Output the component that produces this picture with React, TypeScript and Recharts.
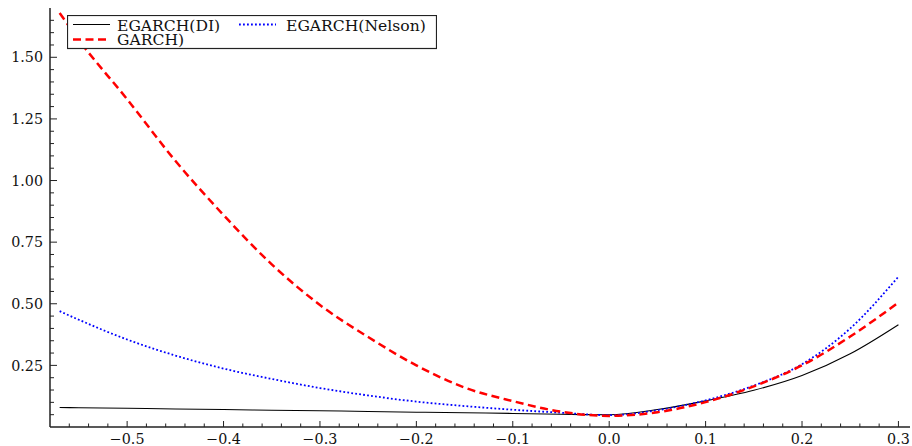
import React from "react";
import { LineChart, Line, XAxis, YAxis, Legend } from "recharts";

// shock values on the x axis
const shocks = [
  -0.57, -0.55, -0.5, -0.45, -0.4, -0.35, -0.3, -0.25, -0.2, -0.15, -0.1, -0.05, 0, 0.05, 0.1,
  0.15, 0.2, 0.25, 0.3,
];

// news impact curves
const egarchDI = [
  0.079, 0.078, 0.076, 0.073, 0.071, 0.068, 0.066, 0.063, 0.06, 0.058, 0.055, 0.052, 0.05, 0.071,
  0.106, 0.149, 0.209, 0.297, 0.415,
];
const egarchNelson = [
  0.47, 0.435, 0.355, 0.29, 0.237, 0.195, 0.158, 0.128, 0.103, 0.085, 0.07, 0.058, 0.048, 0.068,
  0.108, 0.168, 0.255, 0.4, 0.61,
];
const garch = [
  1.68, 1.57, 1.33, 1.08, 0.86, 0.66, 0.495, 0.365, 0.25, 0.16, 0.105, 0.062, 0.045, 0.06, 0.101,
  0.165, 0.25, 0.367, 0.505,
];

const series = [
  { key: "di", name: "EGARCH(DI)", color: "#000000", width: 1.1, dash: undefined as string | undefined },
  { key: "nelson", name: "EGARCH(Nelson)", color: "#0000ff", width: 1.8, dash: "1.8 2.2" },
  { key: "garch", name: "GARCH)", color: "#ff0000", width: 2.5, dash: "8 4.5" },
];

// tick positions: majors are labelled, the rest are minor marks
const xTicks: number[] = [];
for (let i = -28; i <= 15; i++) xTicks.push(+(i * 0.02).toFixed(2));
const yTicks: number[] = [];
for (let i = 1; i <= 33; i++) yTicks.push(+(i * 0.05).toFixed(2));

const data = shocks.map((x, i) => ({
  x,
  di: egarchDI[i],
  nelson: egarchNelson[i],
  garch: garch[i],
}));

// Liberation Serif isn't picked up here, DejaVu Serif is
const FONT = '"DejaVu Serif", serif';

const isMajor = (v: number, step: number) => Math.abs(v / step - Math.round(v / step)) < 1e-6;

const fmt = (v: number, digits: number) => {
  const s = Math.abs(v).toFixed(digits);
  return v < -1e-9 ? "\u2212" + s : s;
};

const YTick = (props: any) => {
  const { x, y, payload } = props;
  const major = isMajor(payload.value, 0.25);
  return (
    <g>
      <line x1={x} x2={x + (major ? 7 : 4)} y1={y} y2={y} stroke="#222" strokeWidth={1} />
      {major && (
        <text x={x - 7} y={y + 5.2} textAnchor="end" fontFamily={FONT} fontSize={14.3} fill="#111">
          {fmt(payload.value, 2)}
        </text>
      )}
    </g>
  );
};

const XTick = (props: any) => {
  const { x, y, payload } = props;
  const major = isMajor(payload.value, 0.1);
  return (
    <g>
      <line x1={x} x2={x} y1={y} y2={y - (major ? 6 : 3.5)} stroke="#222" strokeWidth={1} />
      {major && (
        <text x={x} y={y + 17} textAnchor="middle" fontFamily={FONT} fontSize={14.3} fill="#111">
          {fmt(payload.value, 1)}
        </text>
      )}
    </g>
  );
};

const LegendBox = () => (
  <svg width={370} height={35} style={{ display: "block" }}>
    <rect x={0.5} y={0.5} width={369} height={33} fill="#fff" stroke="#222" strokeWidth={1.2} />
    {series.map((s, i) => {
      const col = i === 1 ? 1 : 0;
      const row = i === 2 ? 1 : 0;
      const lx = col ? 172 : 6;
      const ly = row ? 24.5 : 9.5;
      return (
        <g key={s.key}>
          <line x1={lx} x2={lx + 37} y1={ly} y2={ly} stroke={s.color} strokeWidth={s.width} strokeDasharray={s.dash} />
          <text x={col ? 219 : 50} y={row ? 30 : 15.5} fontFamily={FONT} fontSize={15.6} fill="#111">
            {s.name}
          </text>
        </g>
      );
    })}
  </svg>
);

export default function App() {
  return (
    <div style={{ position: "absolute", left: 0, top: 0, background: "#fff" }}>
      <LineChart width={912} height={446} data={data} margin={{ top: 8, right: 2, bottom: 0, left: 0 }}>
        <XAxis
          dataKey="x"
          type="number"
          domain={[-0.58, 0.312]}
          ticks={xTicks}
          interval={0}
          height={19}
          tickSize={0}
          tickMargin={0}
          tickLine={false}
          tick={<XTick />}
          axisLine={{ stroke: "#222", strokeWidth: 1.5 }}
          allowDataOverflow
        />
        <YAxis
          type="number"
          domain={[0, 1.7]}
          ticks={yTicks}
          interval={0}
          width={50}
          tickSize={0}
          tickMargin={0}
          tickLine={false}
          tick={<YTick />}
          axisLine={{ stroke: "#222", strokeWidth: 1.5 }}
          allowDataOverflow
        />
        <Legend
          layout="horizontal"
          verticalAlign="middle"
          align="center"
          content={<LegendBox />}
          wrapperStyle={{ left: 67, top: 15, width: 370, height: 35 }}
        />
        {series.map((s) => (
          <Line
            key={s.key}
            dataKey={s.key}
            name={s.name}
            type="monotone"
            stroke={s.color}
            strokeWidth={s.width}
            strokeDasharray={s.dash}
            dot={false}
            activeDot={false}
            isAnimationActive={false}
          />
        ))}
      </LineChart>
    </div>
  );
}
